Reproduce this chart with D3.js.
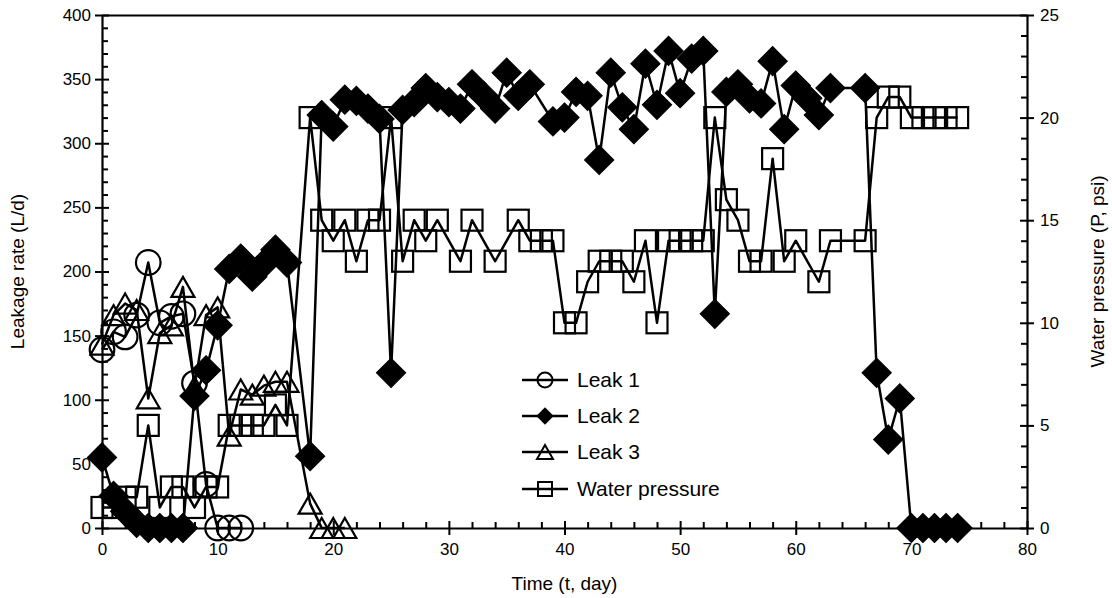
<!DOCTYPE html>
<html><head><meta charset="utf-8">
<script src="https://cdn.jsdelivr.net/npm/d3@7"></script>
<style>
body{margin:0;background:#fff}
svg text{font-family:"Liberation Sans",Arial,sans-serif;fill:#000}
</style>
</head><body>
<svg id="c" width="1112" height="598"></svg>
<script>
// ---------- data ----------
const leak1Days = [0,1,2,3,4,5,6,7,8,9,10,11,12];
const leak1 = [139,153,149,166,207,160,165,167,113,34,0,0,0];

const leak2Days = [0,1,2,3,4,5,6,7,8,9,10,11,12,13,14,15,16,18,19,20,21,22,23,24,25,26,27,28,29,30,31,32,33,34,35,36,37,39,40,41,42,43,44,45,46,47,48,49,50,51,52,53,54,55,56,57,58,59,60,61,62,63,66,67,68,69,70,71,72,73,74];
const leak2 = [55,25,13,4,0,0,0,0,103,123,158,202,210,196,206,217,207,56,322,313,334,333,327,319,121,326,332,343,336,332,327,346,337,327,355,337,346,317,320,340,337,287,355,328,311,362,330,372,339,366,372,167,340,346,335,331,364,311,345,335,322,343,343,121,69,101,0,0,0,0,0];

const leak3Days = [0,1,2,3,4,5,6,7,8,9,10,11,12,13,14,15,16,18,19,20,21];
const leak3 = [143,166,175,170,101,152,158,188,110,166,172,72,108,104,111,114,114,19,0,0,0];

const pressureDays = [0,1,2,3,4,5,6,7,8,9,10,11,12,13,14,15,16,18,19,20,21,22,23,24,25,26,27,28,29,31,32,34,36,37,38,39,40,41,42,43,44,45,46,47,48,49,50,51,52,53,54,55,56,57,58,59,60,62,63,66,67,68,69,70,71,72,73,74];
const pressure = [1,1,1.5,1.5,5,1,2,2,1,2,2,5,5,5,5,6,5,20,15,14,15,13,15,15,20,13,15,14,15,13,15,13,15,14,14,14,10,10,12,13,13,13,12,14,10,14,14,14,14,20,16,15,13,13,18,13,14,12,14,14,20,21,21,20,20,20,20,20];

const xTicks = [0,10,20,30,40,50,60,70,80];
const yLeftTicks = [0,50,100,150,200,250,300,350,400];
const yRightTicks = [0,5,10,15,20,25];
const seriesNames = ["Leak 1","Leak 2","Leak 3","Water pressure"];
const xTitle = "Time (t, day)";
const yLeftTitle = "Leakage rate (L/d)";
const yRightTitle = "Water pressure (P, psi)";

// ---------- layout ----------
const L = 102, R = 1027, T = 15, B = 528;
const svg = d3.select("#c");
const x = d3.scaleLinear([0,80],[L,R]);
const yL = d3.scaleLinear([0,400],[B,T]);
const yR = d3.scaleLinear([0,25],[B,T]);

const tickFont = 17;
function styleAxis(g){
  g.selectAll("path.domain").attr("stroke","#000").attr("stroke-width",2.2);
  g.selectAll(".tick line").attr("stroke","#000").attr("stroke-width",2);
  g.selectAll("text").attr("font-size",tickFont).attr("font-family",'"Liberation Sans",Arial,sans-serif');
}
const xMinor = d3.range(0,81,2).filter(v=>v%10!==0);
const yLMinor = d3.range(0,401,10).filter(v=>v%50!==0);
const yRMinor = d3.range(0,26,1).filter(v=>v%5!==0);

// bottom axis
svg.append("g").attr("transform",`translate(0,${B})`)
  .call(d3.axisBottom(x).tickValues(xTicks).tickSizeInner(7).tickSizeOuter(0).tickPadding(8)).call(styleAxis);
svg.append("g").attr("transform",`translate(0,${B})`)
  .call(d3.axisBottom(x).tickValues(xTicks).tickSize(-7).tickFormat("")).call(g=>g.select(".domain").remove()).call(styleAxis);
svg.append("g").attr("transform",`translate(0,${B})`)
  .call(d3.axisBottom(x).tickValues(xMinor).tickSize(-6).tickFormat("")).call(g=>g.select(".domain").remove()).call(styleAxis);
// top border
svg.append("g").attr("transform",`translate(0,${T})`)
  .call(d3.axisTop(x).tickValues([]).tickSizeOuter(0)).call(styleAxis);
// left axis
svg.append("g").attr("transform",`translate(${L},0)`)
  .call(d3.axisLeft(yL).tickValues(yLeftTicks).tickSizeInner(7).tickSizeOuter(0).tickPadding(4)).call(styleAxis);
svg.append("g").attr("transform",`translate(${L},0)`)
  .call(d3.axisLeft(yL).tickValues(yLeftTicks).tickSize(-7).tickFormat("")).call(g=>g.select(".domain").remove()).call(styleAxis);
svg.append("g").attr("transform",`translate(${L},0)`)
  .call(d3.axisLeft(yL).tickValues(yLMinor).tickSize(-6).tickFormat("")).call(g=>g.select(".domain").remove()).call(styleAxis);
// right axis
svg.append("g").attr("transform",`translate(${R},0)`)
  .call(d3.axisRight(yR).tickValues(yRightTicks).tickSizeInner(7).tickSizeOuter(0).tickPadding(6)).call(styleAxis);
svg.append("g").attr("transform",`translate(${R},0)`)
  .call(d3.axisRight(yR).tickValues(yRightTicks).tickSize(-7).tickFormat("")).call(g=>g.select(".domain").remove()).call(styleAxis);
svg.append("g").attr("transform",`translate(${R},0)`)
  .call(d3.axisRight(yR).tickValues(yRMinor).tickSize(-6).tickFormat("")).call(g=>g.select(".domain").remove()).call(styleAxis);

// titles
svg.append("text").attr("x",(L+R)/2).attr("y",590).attr("text-anchor","middle").attr("font-size",19).text(xTitle);
svg.append("text").attr("transform",`translate(24,${(T+B)/2}) rotate(-90)`).attr("text-anchor","middle").attr("font-size",19).text(yLeftTitle);
svg.append("text").attr("transform",`translate(1104,${(T+B)/2}) rotate(-90)`).attr("text-anchor","middle").attr("font-size",19).text(yRightTitle);

// ---------- markers ----------
const sqSide = 21;
const markers = {
  circle: g=>g.append("circle").attr("r",12.3).attr("fill","none").attr("stroke","#000").attr("stroke-width",2.2),
  diamond: g=>g.append("path").attr("d",d3.symbol(d3.symbolSquare, 430)()).attr("transform","rotate(45)").attr("fill","#000").attr("stroke","#000").attr("stroke-width",1),
  triangle: g=>g.append("path").attr("d","M0,-10L11.5,10L-11.5,10Z").attr("fill","none").attr("stroke","#000").attr("stroke-width",2.2).attr("stroke-linejoin","miter"),
  square: g=>g.append("rect").attr("x",-sqSide/2).attr("y",-sqSide/2).attr("width",sqSide).attr("height",sqSide).attr("fill","none").attr("stroke","#000").attr("stroke-width",2.2)
};

function series(days, vals, ys, marker){
  const pts = days.map((d,i)=>[d, vals[i]]);
  const line = d3.line().x(d=>x(d[0])).y(d=>ys(d[1]));
  svg.append("path").attr("d",line(pts)).attr("fill","none").attr("stroke","#000").attr("stroke-width",2.5).attr("stroke-linejoin","round");
  const g = svg.append("g");
  pts.forEach(p=>{
    const m = g.append("g").attr("transform",`translate(${x(p[0])},${ys(p[1])})`);
    markers[marker](m);
  });
}
series(pressureDays, pressure, yR, "square");
series(leak1Days, leak1, yL, "circle");
series(leak3Days, leak3, yL, "triangle");
series(leak2Days, leak2, yL, "diamond");

// ---------- legend ----------
const legY = [380, 416, 452, 489];
const legMarkers = ["circle","diamond","triangle","square"];
seriesNames.forEach((n,i)=>{
  const g = svg.append("g").attr("transform",`translate(0,${legY[i]})`);
  g.append("line").attr("x1",522).attr("x2",568).attr("stroke","#000").attr("stroke-width",2.5);
  const m = g.append("g").attr("transform","translate(545,0)");
  if(legMarkers[i]==="diamond"){
    m.append("path").attr("d",d3.symbol(d3.symbolSquare, 150)()).attr("transform","rotate(45)").attr("fill","#000");
  } else if(legMarkers[i]==="circle"){
    m.append("circle").attr("r",7.5).attr("fill","none").attr("stroke","#000").attr("stroke-width",2);
  } else if(legMarkers[i]==="triangle"){
    m.append("path").attr("d","M0,-7L8,7L-8,7Z").attr("fill","none").attr("stroke","#000").attr("stroke-width",2);
  } else {
    m.append("rect").attr("x",-7).attr("y",-7).attr("width",14).attr("height",14).attr("fill","none").attr("stroke","#000").attr("stroke-width",2);
  }
  g.append("text").attr("x",577).attr("y",0).attr("dy","0.35em").attr("font-size",21).text(n);
});
</script>
</body></html>
